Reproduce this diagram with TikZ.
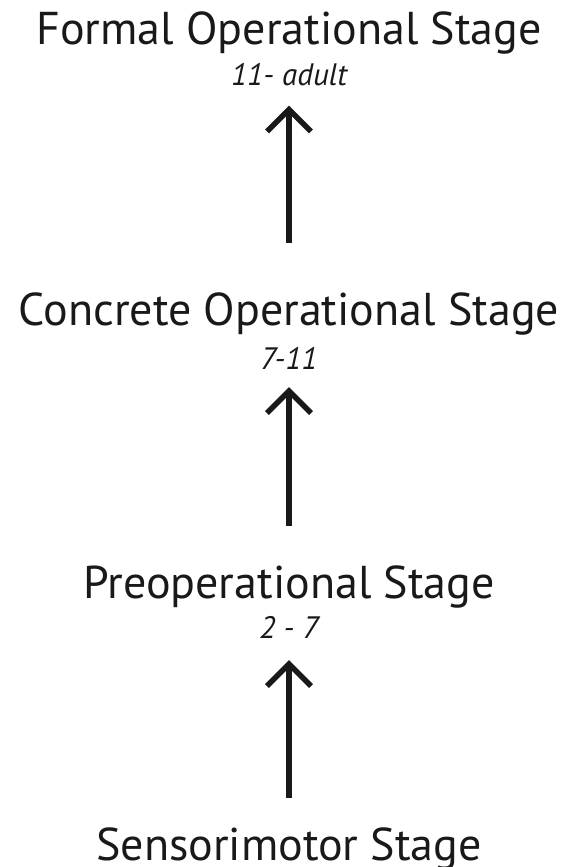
\documentclass[tikz,border=0pt]{standalone}
\usepackage{fontspec}
\setmainfont{PT Sans}
\usetikzlibrary{positioning}
\usetikzlibrary{arrows.meta}
\tikzset{stage node/.style={font=\fontsize{46}{50}\selectfont, inner sep=0pt, anchor=base, text=black!90},
	age node/.style={font=\itshape\fontsize{31}{34}\selectfont, inner sep=0pt, anchor=base, text=black!90},
	stage arrow/.style={line width=5.5pt, line cap=butt, black!90, -{Straight Barb[length=22pt,width=44pt,line cap=butt]}},}

\begin{document}
\begin{tikzpicture}[x=1pt, y=-1pt]
		\useasboundingbox (0,0) rectangle (569,867);
		\node[stage node] (formal) at (289,45) {Formal Operational Stage};
		\node[age node] (formalage) at (289,85) {11- adult};
		\node[stage node] (concrete) at (289,325) {Concrete Operational Stage};
		\node[age node] (concreteage) at (289,369) {7-11};
		\node[stage node] (preop) at (289,598) {Preoperational Stage};
		\node[age node] (preopage) at (289,638) {2 - 7};
		\node[stage node] (sensori) at (289,860) {Sensorimotor Stage};

		\draw[stage arrow, shorten <=49pt, shorten >=20pt] (concrete) -- (formalage);
		\draw[stage arrow, shorten <=39pt, shorten >=18pt] (preop) -- (concreteage);
		\draw[stage arrow, shorten <=29pt, shorten >=22pt] (sensori) -- (preopage);
	\end{tikzpicture}
\end{document}
